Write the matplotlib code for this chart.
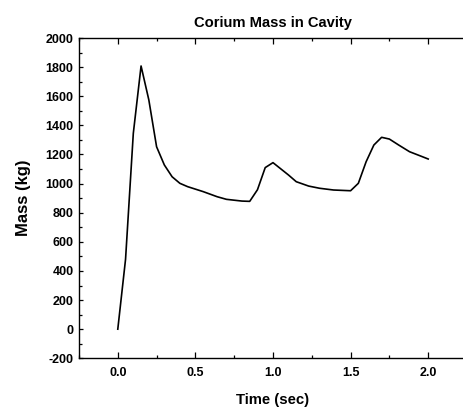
import matplotlib
matplotlib.use("Agg")
import matplotlib.pyplot as plt
from matplotlib.ticker import MultipleLocator

# * - - - Data
time_sec = [0.0, 0.05, 0.10, 0.15, 0.20, 0.25, 0.30, 0.35, 0.40, 0.45,
            0.55, 0.64, 0.70, 0.80, 0.85, 0.90, 0.95, 1.00, 1.10, 1.15,
            1.23, 1.30, 1.39, 1.50, 1.55, 1.60, 1.65, 1.70, 1.75, 1.81,
            1.88, 1.95, 2.00]
mass_kg = [0, 480, 1345, 1808, 1575, 1253, 1128, 1047, 1002, 979,
           945, 910, 892, 880, 878, 958, 1110, 1144, 1059, 1013,
           983, 968, 956, 951, 1002, 1150, 1265, 1318, 1306, 1265,
           1219, 1190, 1169]

x_ticks = [0.0, 0.5, 1.0, 1.5, 2.0]
y_ticks = list(range(-200, 2001, 200))

plt.rcParams["font.family"] = ["Liberation Sans", "DejaVu Sans"]
plt.rcParams["font.weight"] = "bold"
plt.rcParams["axes.unicode_minus"] = False

# * - - - Axes run past the right edge of the picture, as in the reference
fig = plt.figure(figsize=(4.63, 4.09), dpi=100)
ax = fig.add_axes([0.1706, 0.124, 0.838, 0.783])

ax.plot(time_sec, mass_kg, color="black", linewidth=1.2)

ax.set_xlim(-0.25, 2.25)
ax.set_ylim(-200, 2000)
ax.set_xticks(x_ticks)
ax.set_xticklabels([f"{v:.1f}" for v in x_ticks])
ax.set_yticks(y_ticks)
ax.xaxis.set_minor_locator(MultipleLocator(0.25))
ax.yaxis.set_minor_locator(MultipleLocator(100))

ax.tick_params(axis="x", which="major", direction="in", length=4.5, width=0.9,
               labelsize=9, pad=6, top=True)
ax.tick_params(axis="x", which="minor", direction="in", length=2.5, width=0.9, top=True)
ax.tick_params(axis="y", which="major", direction="in", length=3, width=0.9,
               labelsize=9, pad=4)
ax.tick_params(axis="y", which="minor", direction="in", length=2, width=0.9)
for lab in ax.get_xticklabels() + ax.get_yticklabels():
    lab.set_fontweight("bold")

for side in ["left", "bottom", "top"]:
    ax.spines[side].set_linewidth(1.0)
ax.spines["right"].set_visible(False)

ax.set_title("Corium Mass in Cavity", fontsize=10.6, fontweight="bold", pad=8)
ax.set_xlabel("Time (sec)", fontsize=10.7, fontweight="bold", labelpad=10)
ax.set_ylabel("Mass (kg)", fontsize=12, fontweight="bold", labelpad=10)

fig.savefig("out.png", dpi=100)
